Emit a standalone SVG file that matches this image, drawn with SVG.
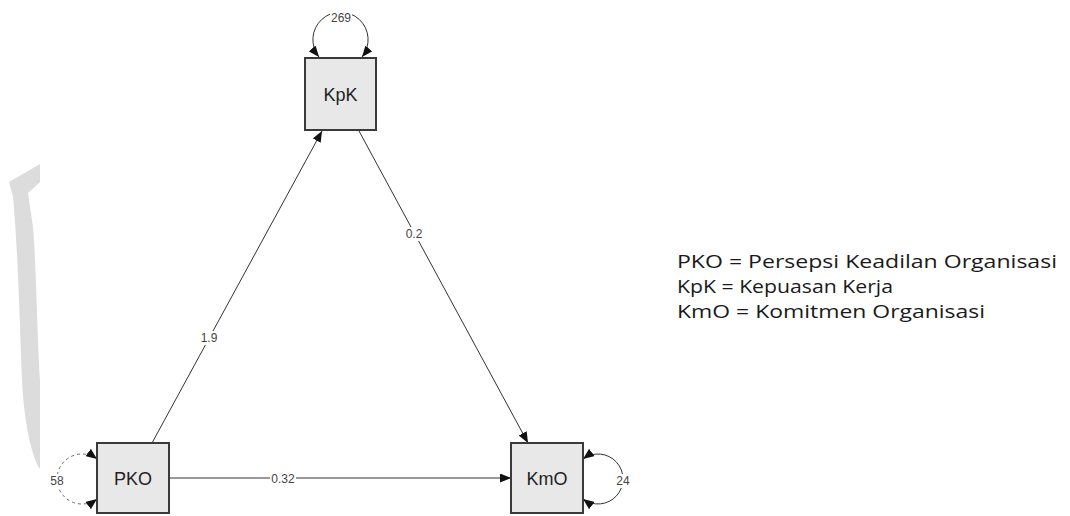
<svg xmlns="http://www.w3.org/2000/svg" width="1070" height="516" viewBox="0 0 1070 516">
<style>
.box{fill:#e8e8e8;stroke:#3a3a3a;stroke-width:2}
.nlabel{font-family:"Liberation Sans",Arial,sans-serif;font-size:18px;fill:#222;text-anchor:middle;dominant-baseline:central}
.edge{fill:none;stroke:#333;stroke-width:1}
.dashed{stroke-dasharray:3,3;stroke:#666}
.bg{fill:#fff}
.elabel{font-family:"Liberation Sans",Arial,sans-serif;font-size:12px;fill:#444;text-anchor:middle;dominant-baseline:central}
.legend{font-family:"Open Sans","Noto Sans",sans-serif;font-size:19px;fill:#1a1a1a}
</style>
<defs>
<marker id="arr" markerUnits="userSpaceOnUse" markerWidth="11" markerHeight="9" refX="11" refY="4.5" orient="auto-start-reverse">
<path d="M0,0 L11,4.5 L0,9 Z" fill="#111"/>
</marker>
</defs>
<path d="M40,164 L9,182 L13,197 C18,250 20,330 22,380 C24,420 30,450 39,468 L40,468 L40,380 C37,330 36,260 33,227 L28,193 L40,182 Z" fill="#dcdcdc"/>
<g id="connectors">
<line class="edge" x1="152" y1="443" x2="322" y2="131" marker-end="url(#arr)"/>
<line class="edge" x1="359" y1="131" x2="528" y2="443" marker-end="url(#arr)"/>
<line class="edge" x1="169" y1="478" x2="511" y2="478" marker-end="url(#arr)"/>
<path class="edge" d="M319,57 A27.6,27.6 0 1 1 362,57" marker-start="url(#arr)" marker-end="url(#arr)"/>
<path class="edge dashed" d="M97,459 A25,25 0 1 0 97,499" marker-start="url(#arr)" marker-end="url(#arr)"/>
<path class="edge" d="M583,459 A25,25 0 1 1 583,499" marker-start="url(#arr)" marker-end="url(#arr)"/>
<rect class="bg" x="200" y="331" width="18" height="14"/>
<rect class="bg" x="405" y="227" width="18" height="14"/>
<rect class="bg" x="270" y="472" width="26" height="14"/>
<rect class="bg" x="330" y="11" width="22" height="14"/>
<rect class="bg" x="49" y="474" width="16" height="14"/>
<rect class="bg" x="615" y="474" width="16" height="14"/>
<text class="elabel" x="209" y="338">1.9</text>
<text class="elabel" x="414" y="234">0.2</text>
<text class="elabel" x="283" y="479">0.32</text>
<text class="elabel" x="341" y="18">269</text>
<text class="elabel" x="57" y="481">58</text>
<text class="elabel" x="623" y="481">24</text>
</g>
<g id="KpK">
<rect class="box" x="305" y="58" width="71" height="72"/>
<text class="nlabel" x="340.5" y="95">KpK</text>
</g>
<g id="PKO">
<rect class="box" x="97" y="443" width="72" height="70"/>
<text class="nlabel" x="133" y="479">PKO</text>
</g>
<g id="KmO">
<rect class="box" x="511" y="443" width="72" height="70"/>
<text class="nlabel" x="547" y="479">KmO</text>
</g>
<g id="legend">
<text class="legend" x="677" y="268" textLength="380" lengthAdjust="spacingAndGlyphs">PKO = Persepsi Keadilan Organisasi</text>
<text class="legend" x="677" y="293" textLength="216" lengthAdjust="spacingAndGlyphs">KpK = Kepuasan Kerja</text>
<text class="legend" x="677" y="318" textLength="308" lengthAdjust="spacingAndGlyphs">KmO = Komitmen Organisasi</text>
</g>
</svg>
